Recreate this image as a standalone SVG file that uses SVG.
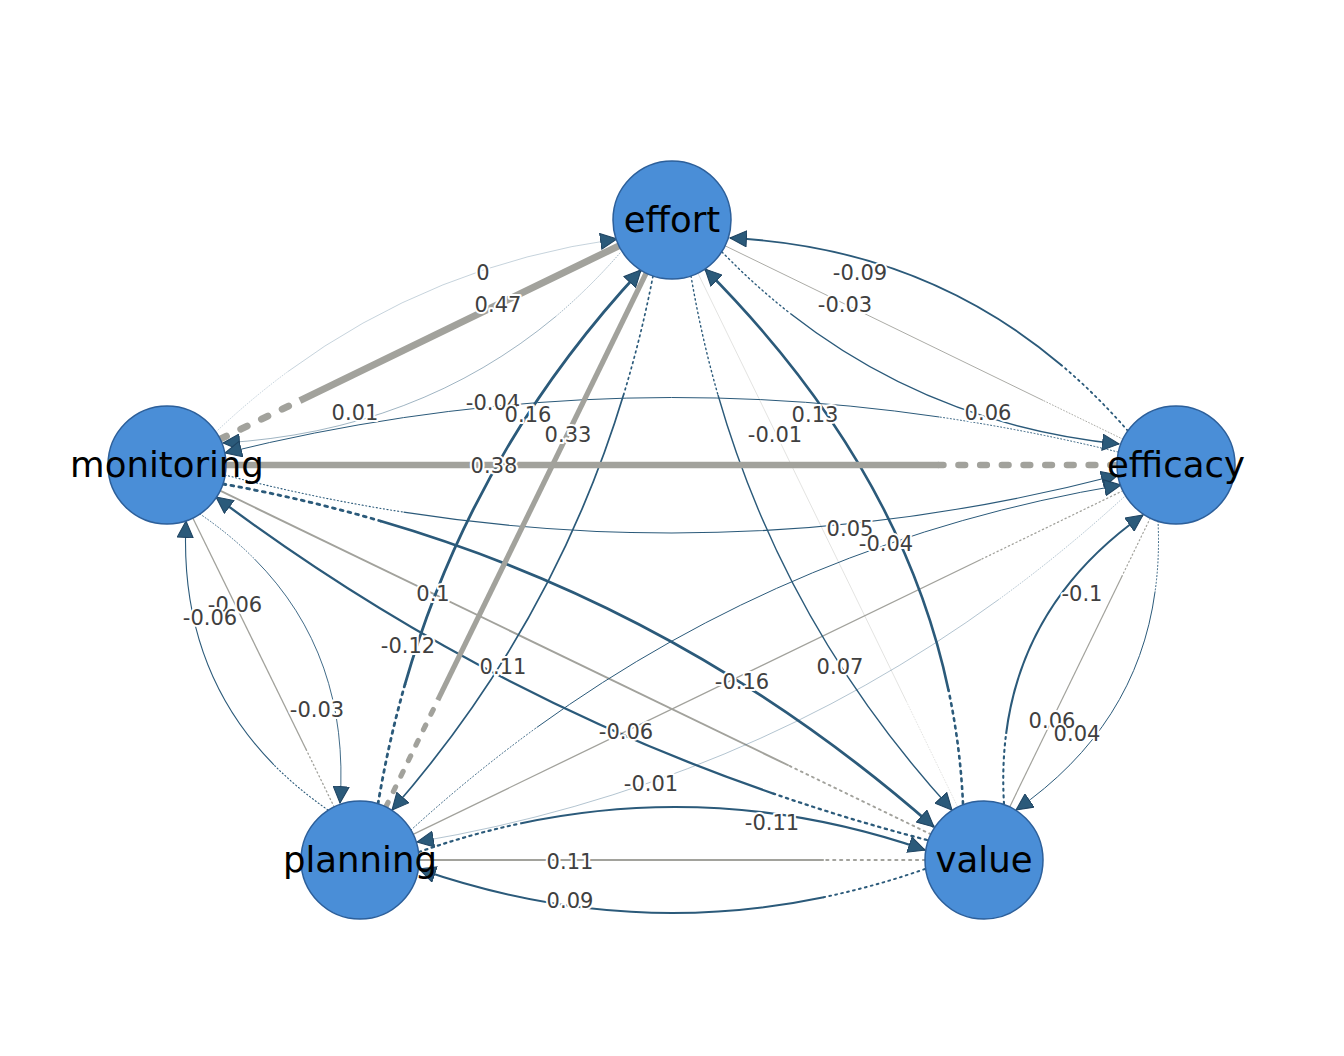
<svg xmlns="http://www.w3.org/2000/svg" width="1344" height="1056" viewBox="0 0 1344 1056">
<style>
.b{fill:none;stroke:#2b5a7a}
.g{fill:none;stroke:#a2a29c}
.d{stroke-linecap:round}
.lbl{font-family:"DejaVu Sans","Liberation Sans",sans-serif;font-size:21px;fill:#404040;text-anchor:middle;stroke:#fff;stroke-width:4;paint-order:stroke;stroke-linejoin:round}
.node circle{fill:#4a8ed7;stroke:#2c5f9a;stroke-width:1.5}
.node text{font-family:"DejaVu Sans","Liberation Sans",sans-serif;font-size:35.5px;fill:#000;text-anchor:middle}
</style>
<defs>
<marker id="ah" markerUnits="userSpaceOnUse" markerWidth="18" markerHeight="17" viewBox="0 0 17 16" refX="16" refY="8" orient="auto">
<path d="M0.5,0.5 L16,8 L0.5,15.5 z" fill="#2b5a7a" stroke="#1f4462" stroke-width="1"/>
</marker>
</defs>
<rect width="1344" height="1056" fill="#fff"/>
<g id="edges">
<g id="e-E-F-g"><path class="g d" stroke-width="0.9" stroke-dasharray="0.9 2.2" d="M1122.9,439.2 L1043.3,400.5"/><path class="g" stroke-width="0.9" d="M1043.3,400.5 L725.1,245.8"/></g>
<g id="e-E-V-g"><path class="g d" stroke-width="0.6" stroke-opacity="0.5" stroke-dasharray="0.8 2" d="M958.2,808 L906.2,701"/><path class="g" stroke-width="0.6" stroke-opacity="0.5" d="M906.2,701 L697.8,273"/></g>
<g id="e-M-V-g"><path class="g d" stroke-width="1.9" stroke-dasharray="1.9 4.3" d="M930.9,834.3 L788.7,765.5"/><path class="g" stroke-width="1.9" d="M788.7,765.5 L220.1,490.7"/></g>
<g id="e-M-P-g"><path class="g d" stroke-width="1.3" stroke-dasharray="1.2 3" d="M334.2,807 L306,749.2"/><path class="g" stroke-width="1.3" d="M306,749.2 L192.8,518"/></g>
<g id="e-P-F-g"><path class="g d" stroke-width="1.3" stroke-dasharray="1.2 3" d="M1122.9,490.7 L980.9,559.5"/><path class="g" stroke-width="1.3" d="M980.9,559.5 L413.1,834.3"/></g>
<g id="e-P-V-g"><path class="g d" stroke-width="2.1" stroke-dasharray="2.1 4.8" d="M925,860 L823.8,860"/><path class="g" stroke-width="2.1" d="M823.8,860 L419,860"/></g>
<g id="e-V-F-g"><path class="g d" stroke-width="1.2" stroke-dasharray="1.2 2.8" d="M1150.3,518.1 L1122.1,575.9"/><path class="g" stroke-width="1.2" d="M1122.1,575.9 L1009.7,806.9"/></g>
<g id="e-F-E"><path class="b d" stroke-width="1.8" stroke-dasharray="1.8 4" d="M1128,431 Q1096.4,394.7 1061.5,365.2"/><path class="b" stroke-width="1.8" marker-end="url(#ah)" d="M1061.5,365.2 Q922,247.2 730,238"/></g>
<g id="e-E-F"><path class="b d" stroke-width="1.4" stroke-dasharray="1.4 3.2" d="M722,252 Q754.7,285.6 790.3,313.5"/><path class="b" stroke-width="1.4" marker-end="url(#ah)" d="M790.3,313.5 Q932.4,424.8 1119,444"/></g>
<g id="e-V-E"><path class="b d" stroke-width="2.6" stroke-dasharray="2.6 5" d="M963,804 Q960.4,746.2 948.5,690.2"/><path class="b" stroke-width="2.6" marker-end="url(#ah)" d="M948.5,690.2 Q901,465.8 705,269"/></g>
<g id="e-E-V"><path class="b d" stroke-width="1.4" stroke-dasharray="1.4 3.2" d="M691,276 Q701.4,337.1 718,395"/><path class="b" stroke-width="1.4" marker-end="url(#ah)" d="M718,395 Q784.7,627.1 952,810"/></g>
<g id="e-P-E"><path class="b d" stroke-width="2.8" stroke-dasharray="2.8 5.2" d="M378,804 Q388.3,742.7 404.9,684.6"/><path class="b" stroke-width="2.8" marker-end="url(#ah)" d="M404.9,684.6 Q471.6,451.9 641,270"/></g>
<g id="e-E-P"><path class="b d" stroke-width="1.7" stroke-dasharray="1.7 3.8" d="M653,276 Q641.3,336.4 623.8,394"/><path class="b" stroke-width="1.7" marker-end="url(#ah)" d="M623.8,394 Q554,624.6 392,810"/></g>
<g id="e-M-E"><path class="b d" stroke-width="0.6" stroke-opacity="0.45" stroke-dasharray="0.8 2" d="M218,430 Q251.8,398.2 288,371.5"/><path class="b" stroke-width="0.6" stroke-opacity="0.45" marker-end="url(#ah)" d="M288,371.5 Q433,264.6 617,239"/></g>
<g id="e-E-M"><path class="b d" stroke-width="0.7" stroke-opacity="0.65" stroke-dasharray="0.8 2" d="M620,253 Q589.3,288.1 555.5,316.7"/><path class="b" stroke-width="0.7" stroke-opacity="0.65" marker-end="url(#ah)" d="M555.5,316.7 Q417.9,431.3 223,443"/></g>
<g id="e-F-M"><path class="b d" stroke-width="1" stroke-dasharray="1 2.4" d="M1118,452 Q1028.7,430.1 939.4,417"/><path class="b" stroke-width="1" marker-end="url(#ah)" d="M939.4,417 Q582.2,364.6 225,453"/></g>
<g id="e-M-F"><path class="b d" stroke-width="1.1" stroke-dasharray="1.1 2.5" d="M225,475 Q314.3,498.2 403.6,512.1"/><path class="b" stroke-width="1.1" marker-end="url(#ah)" d="M403.6,512.1 Q760.8,567.8 1118,475"/></g>
<g id="e-M-V"><path class="b d" stroke-width="2.8" stroke-dasharray="2.8 5.2" d="M223,484 Q303.7,498.5 380.5,521"/><path class="b" stroke-width="2.8" marker-end="url(#ah)" d="M380.5,521 Q687.8,610.6 934,827"/></g>
<g id="e-V-M"><path class="b d" stroke-width="2.3" stroke-dasharray="2.3 4.6" d="M927,840 Q849.1,819.7 774,793.8"/><path class="b" stroke-width="2.3" marker-end="url(#ah)" d="M774,793.8 Q473.4,690.2 216,497"/></g>
<g id="e-P-M"><path class="b d" stroke-width="1.1" stroke-dasharray="1.1 2.5" d="M328,810 Q297.8,789 273.9,764.8"/><path class="b" stroke-width="1.1" marker-end="url(#ah)" d="M273.9,764.8 Q178.8,668.1 186,521"/></g>
<g id="e-M-P"><path class="b d" stroke-width="0.9" stroke-dasharray="0.9 2.2" d="M200,514 Q230.6,534.9 254.5,559"/><path class="b" stroke-width="0.9" marker-end="url(#ah)" d="M254.5,559 Q350.2,655.2 340,803"/></g>
<g id="e-P-F"><path class="b d" stroke-width="1" stroke-dasharray="1 2.4" d="M411,830 Q471.8,774.6 536.7,727.5"/><path class="b" stroke-width="1" marker-end="url(#ah)" d="M536.7,727.5 Q796.4,539.3 1121,485"/></g>
<g id="e-F-P"><path class="b d" stroke-width="0.6" stroke-opacity="0.6" stroke-dasharray="0.8 2" d="M1124,497 Q1063.5,552.3 998.9,599.4"/><path class="b" stroke-width="0.6" stroke-opacity="0.6" marker-end="url(#ah)" d="M998.9,599.4 Q740.4,787.4 417,842"/></g>
<g id="e-P-V"><path class="b d" stroke-width="2.2" stroke-dasharray="2.2 4.4" d="M419,852 Q469.6,834.2 520.2,823.5"/><path class="b" stroke-width="2.2" marker-end="url(#ah)" d="M520.2,823.5 Q722.6,780.4 925,850"/></g>
<g id="e-V-P"><path class="b d" stroke-width="1.9" stroke-dasharray="1.9 4.2" d="M925,869 Q874.4,886.6 823.8,897.2"/><path class="b" stroke-width="1.9" marker-end="url(#ah)" d="M823.8,897.2 Q621.4,939.4 419,869"/></g>
<g id="e-V-F"><path class="b d" stroke-width="2.1" stroke-dasharray="2.1 4.4" d="M1004,804 Q1001.8,767.4 1006.1,733.9"/><path class="b" stroke-width="2.1" marker-end="url(#ah)" d="M1006.1,733.9 Q1023.1,599.7 1143,515"/></g>
<g id="e-F-V"><path class="b d" stroke-width="1" stroke-dasharray="1 2.4" d="M1158,521 Q1159.8,557.8 1155.1,591.4"/><path class="b" stroke-width="1" marker-end="url(#ah)" d="M1155.1,591.4 Q1136.8,725.9 1016,810"/></g>
<g id="e-E-P-g"><path class="g d" stroke-width="5.2" stroke-dasharray="5.2 12" d="M385.8,807 L437.8,700.2"/><path class="g" stroke-width="5.2" d="M437.8,700.2 L646.2,273"/></g>
<g id="e-E-M-g"><path class="g d" stroke-width="7" stroke-dasharray="7 16" d="M220.1,439.2 L299.9,400.6"/><path class="g" stroke-width="7" d="M299.9,400.6 L618.9,245.8"/></g>
<g id="e-M-F-g"><path class="g d" stroke-width="6.6" stroke-dasharray="6.6 15.1" d="M1117,465 L938.8,465"/><path class="g" stroke-width="6.6" d="M938.8,465 L226,465"/></g>
</g>
<g id="labels">
<text class="lbl" x="483" y="279.5">0</text>
<text class="lbl" x="498" y="311.5">0.47</text>
<text class="lbl" x="860" y="279.5">-0.09</text>
<text class="lbl" x="845" y="311.5">-0.03</text>
<text class="lbl" x="355" y="419.5">0.01</text>
<text class="lbl" x="493" y="409.5">-0.04</text>
<text class="lbl" x="528" y="421.5">0.16</text>
<text class="lbl" x="568" y="441.5">0.33</text>
<text class="lbl" x="815" y="421.5">0.13</text>
<text class="lbl" x="775" y="441.5">-0.01</text>
<text class="lbl" x="988" y="419.5">0.06</text>
<text class="lbl" x="494" y="472.5">0.38</text>
<text class="lbl" x="850" y="535.5">0.05</text>
<text class="lbl" x="886" y="550.5">-0.04</text>
<text class="lbl" x="433" y="600.5">0.1</text>
<text class="lbl" x="235" y="611.5">-0.06</text>
<text class="lbl" x="210" y="624.5">-0.06</text>
<text class="lbl" x="408" y="652.5">-0.12</text>
<text class="lbl" x="1082" y="600.5">-0.1</text>
<text class="lbl" x="503" y="673.5">0.11</text>
<text class="lbl" x="840" y="673.5">0.07</text>
<text class="lbl" x="742" y="688.5">-0.16</text>
<text class="lbl" x="317" y="716.5">-0.03</text>
<text class="lbl" x="1052" y="727.5">0.06</text>
<text class="lbl" x="1077" y="740.5">0.04</text>
<text class="lbl" x="626" y="738.5">-0.06</text>
<text class="lbl" x="651" y="790.5">-0.01</text>
<text class="lbl" x="772" y="829.5">-0.11</text>
<text class="lbl" x="570" y="868.5">0.11</text>
<text class="lbl" x="570" y="907.5">0.09</text>
</g>
<g id="node-effort" class="node"><circle cx="672" cy="220" r="59"/><text x="672" y="232">effort</text></g>
<g id="node-monitoring" class="node"><circle cx="167" cy="465" r="59"/><text x="167" y="477">monitoring</text></g>
<g id="node-efficacy" class="node"><circle cx="1176" cy="465" r="59"/><text x="1176" y="477">efficacy</text></g>
<g id="node-planning" class="node"><circle cx="360" cy="860" r="59"/><text x="360" y="872">planning</text></g>
<g id="node-value" class="node"><circle cx="984" cy="860" r="59"/><text x="984" y="872">value</text></g>
</svg>
